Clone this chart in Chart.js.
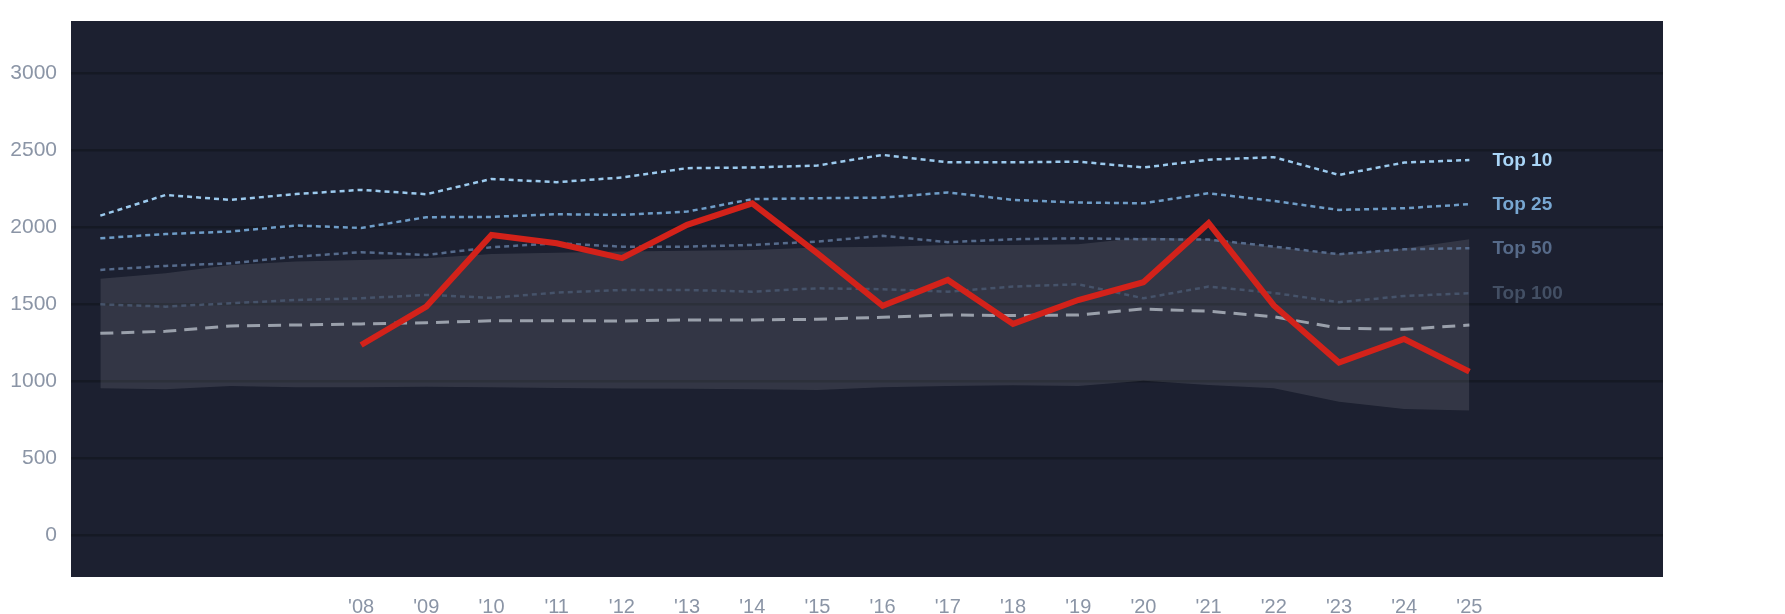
<!DOCTYPE html>
<html>
<head>
<meta charset="utf-8">
<script src="https://cdn.jsdelivr.net/npm/chart.js@4.4.1/dist/chart.umd.min.js"></script>
<style>
  html, body { margin:0; padding:0; background:#fff; }
  #wrap { width:1785px; height:614px; }
</style>
</head>
<body>
<div id="wrap"><canvas id="chart"></canvas></div>
<script>
// series values, one per year 2004..2025
const years = [2004,2005,2006,2007,2008,2009,2010,2011,2012,2013,2014,2015,2016,2017,2018,2019,2020,2021,2022,2023,2024,2025];
const top10  = [2075,2209,2177,2215,2242,2214,2313,2292,2322,2383,2387,2400,2469,2421,2421,2425,2387,2438,2454,2339,2419,2436];
const top25  = [1928,1956,1972,2011,1995,2065,2067,2084,2080,2101,2182,2188,2192,2225,2177,2160,2155,2220,2170,2112,2123,2149];
const top50  = [1723,1749,1766,1809,1838,1820,1870,1896,1874,1874,1885,1907,1944,1903,1922,1928,1922,1920,1874,1825,1857,1864];
const top100 = [1500,1485,1507,1528,1539,1561,1542,1576,1593,1593,1582,1604,1598,1582,1615,1630,1539,1615,1574,1514,1554,1572];
const median = [1312,1325,1360,1366,1373,1381,1393,1394,1392,1399,1399,1403,1416,1431,1427,1431,1470,1455,1420,1345,1338,1366];
const bandHigh = [1665,1701,1755,1777,1788,1799,1827,1835,1842,1848,1853,1868,1874,1885,1885,1890,1933,1924,1872,1827,1862,1922];
const bandLow  = [956,949,971,962,962,966,962,958,955,953,949,945,962,971,975,971,1005,977,956,869,822,811];
// highlighted series, starts in 2008
const mainSeries = [null,null,null,null,1236,1485,1950,1896,1799,2015,2155,1830,1490,1658,1373,1528,1643,2026,1493,1123,1275,1064];
const yTicks = [0,500,1000,1500,2000,2500,3000];
const firstLabelYear = 2008;

const pts = arr => years.map((y,i)=>({x:y, y:arr[i]}));

const plotBg = {
  id:'plotBg',
  beforeDraw(chart){
    const {ctx, chartArea:a} = chart;
    ctx.save();
    ctx.fillStyle = '#1c2030';
    ctx.fillRect(a.left, a.top, a.right-a.left, a.bottom-a.top);
    ctx.restore();
  }
};

// end labels next to the last point of each tier line
const endLabels = {
  id:'endLabels',
  afterDatasetsDraw(chart){
    const {ctx} = chart;
    const xs = chart.scales.x, ys = chart.scales.y;
    ctx.save();
    ctx.font = 'bold 19px "Liberation Sans", Arial, sans-serif';
    ctx.textBaseline = 'middle';
    ctx.textAlign = 'left';
    chart.data.datasets.forEach(ds=>{
      if(!ds.endLabel) return;
      const last = ds.data[ds.data.length-1];
      ctx.fillStyle = ds.endLabelColor;
      ctx.fillText(ds.endLabel, xs.getPixelForValue(last.x)+23, ys.getPixelForValue(last.y)+1);
    });
    ctx.restore();
  }
};

const lineBase = {pointRadius:0, tension:0, fill:false};

new Chart(document.getElementById('chart'), {
  type:'line',
  data:{
    datasets:[
      {...lineBase, data:pts(mainSeries), borderColor:'#d3221a', borderWidth:6, borderJoinStyle:'miter'},
      {...lineBase, data:pts(median), borderColor:'#9aa0ab', borderWidth:3, borderDash:[13,8]},
      {...lineBase, data:pts(top10), borderColor:'#9ccaee', borderWidth:2.5, borderDash:[5,4],
        endLabel:'Top 10', endLabelColor:'#a9d5f7'},
      {...lineBase, data:pts(top25), borderColor:'#6f9dc8', borderWidth:2.5, borderDash:[5,4],
        endLabel:'Top 25', endLabelColor:'#78a7d2'},
      {...lineBase, data:pts(top50), borderColor:'#566b8c', borderWidth:2.5, borderDash:[5,4],
        endLabel:'Top 50', endLabelColor:'#566a89'},
      {...lineBase, data:pts(top100), borderColor:'#46536a', borderWidth:2.5, borderDash:[5,4],
        endLabel:'Top 100', endLabelColor:'#434f64'},
      {...lineBase, data:pts(bandHigh), borderWidth:0, borderColor:'rgba(0,0,0,0)',
        fill:'+1', backgroundColor:'rgba(255,255,255,0.1)'},
      {...lineBase, data:pts(bandLow), borderWidth:0, borderColor:'rgba(0,0,0,0)'}
    ]
  },
  options:{
    responsive:true,
    maintainAspectRatio:false,
    animation:false,
    layout:{padding:{top:21, right:122, left:0, bottom:0}},
    plugins:{legend:{display:false}, tooltip:{enabled:false}},
    scales:{
      x:{
        type:'linear', min:2003.55, max:2027.97,
        border:{display:false},
        grid:{display:false},
        afterBuildTicks: axis => {
          axis.ticks = years.filter(y=>y>=firstLabelYear).map(y=>({value:y}));
        },
        afterFit: axis => { axis.height = 37; axis.paddingLeft = 0; axis.paddingRight = 0; },
        ticks:{
          autoSkip:false, maxRotation:0, padding:10,
          color:'#8b95a6',
          font:{family:'"Liberation Sans", Arial, sans-serif', size:20},
          callback: v => "'" + String(v).slice(2)
        }
      },
      y:{
        min:-268, max:3337,
        border:{display:false},
        grid:{color:'#151924', lineWidth:2.5, drawTicks:false},
        afterBuildTicks: axis => { axis.ticks = yTicks.map(v=>({value:v})); },
        afterFit: axis => { axis.width = 71; axis.paddingTop = 0; axis.paddingBottom = 0; },
        ticks:{
          padding:14,
          color:'#8b95a6',
          font:{family:'"Liberation Sans", Arial, sans-serif', size:21},
          callback: v => String(v)
        }
      }
    }
  },
  plugins:[plotBg, endLabels]
});
</script>
</body>
</html>
